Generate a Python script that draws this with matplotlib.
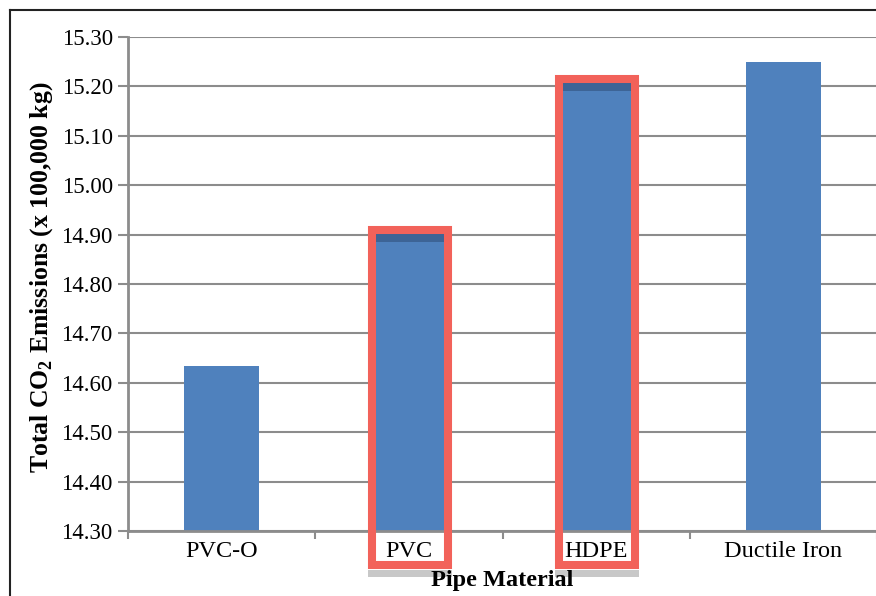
import numpy as np
import matplotlib.pyplot as plt
from matplotlib.patches import Rectangle
from matplotlib.lines import Line2D

# pipe materials and total CO2 emissions (x 100,000 kg)
materials = ["PVC-O", "PVC", "HDPE", "Ductile Iron"]
emissions = [14.633, 14.885, 15.19, 15.25]
extra = [0.0, 0.02, 0.02, 0.0]  # darker cap on PVC / HDPE
highlight = [1, 2]  # boxed categories
box_tops = [14.909, 15.214]

plt.rcParams["font.family"] = ["Liberation Serif", "DejaVu Serif"]
plt.rcParams["mathtext.fontset"] = "custom"
plt.rcParams["mathtext.rm"] = "Liberation Serif"
plt.rcParams["mathtext.bf"] = "Liberation Serif:bold"

BLUE = "#4F81BD"
DARK = "#3D6496"
RED = "#F2625A"
GRID = "#8C8C8C"

fig = plt.figure(figsize=(8.76, 5.96), dpi=100)
ax = fig.add_axes([128 / 876, 65 / 596, 749 / 876, 494 / 596])

x = np.arange(len(materials))
ax.bar(x, emissions, width=0.4, color=BLUE, zorder=3, bottom=0)
ax.bar(x, extra, width=0.4, bottom=emissions, color=DARK, zorder=3)

ax.set_ylim(14.30, 15.30)
ax.set_xlim(-0.5, len(materials) - 0.5)
yt = np.arange(14.30, 15.301, 0.10)
ax.set_yticks(yt)
ax.set_yticklabels([f"{v:.2f}" for v in yt])
ax.yaxis.grid(True, color=GRID, linewidth=1.5, zorder=0)

ax.set_xticks(x)
ax.set_xticklabels(materials)
ax.tick_params(axis="x", length=0, pad=7, labelsize=17.5)
ax.set_xticks(np.arange(-0.5, len(materials) + 0.5, 1.0), minor=True)
ax.tick_params(axis="x", which="minor", length=6, width=1.5, color=GRID)
ax.tick_params(axis="y", length=7, width=1.5, color=GRID, labelsize=16.5, pad=4)

for s in ["top", "right"]:
    ax.spines[s].set_visible(False)
for s in ["left", "bottom"]:
    ax.spines[s].set_color(GRID)
    ax.spines[s].set_linewidth(2)
    ax.spines[s].set_zorder(4)

ax.set_xlabel("Pipe Material", fontsize=17.5, fontweight="bold")
ax.xaxis.set_label_coords(0.5, -0.101)
ax.xaxis.label.set_va("center")
ax.set_ylabel(r"Total CO$_\mathbf{2}$ Emissions (x 100,000 kg)", fontsize=18.5,
              fontweight="bold")
ax.yaxis.set_label_coords(-0.097, 0.514)

# red highlight boxes with soft shadow
for i, top in zip(highlight, box_tops):
    shadow = Rectangle((i - 0.218, 14.207), 0.448, 0.014, facecolor="#C8C8C8",
                       edgecolor="none", clip_on=False, zorder=1)
    ax.add_patch(shadow)
    box = Rectangle((i - 0.196, 14.232), 0.404, top - 14.232, fill=False,
                    edgecolor=RED, linewidth=5.8, clip_on=False, zorder=5)
    ax.add_patch(box)

# page frame
fig.add_artist(Line2D([10 / 876, 10 / 876], [0, 1 - 10 / 596],
                      transform=fig.transFigure, color="#222222", linewidth=1.5))
fig.add_artist(Line2D([10 / 876, 1], [1 - 10 / 596, 1 - 10 / 596],
                      transform=fig.transFigure, color="#222222", linewidth=1.5))

fig.savefig("out.png", dpi=100, facecolor="white")
